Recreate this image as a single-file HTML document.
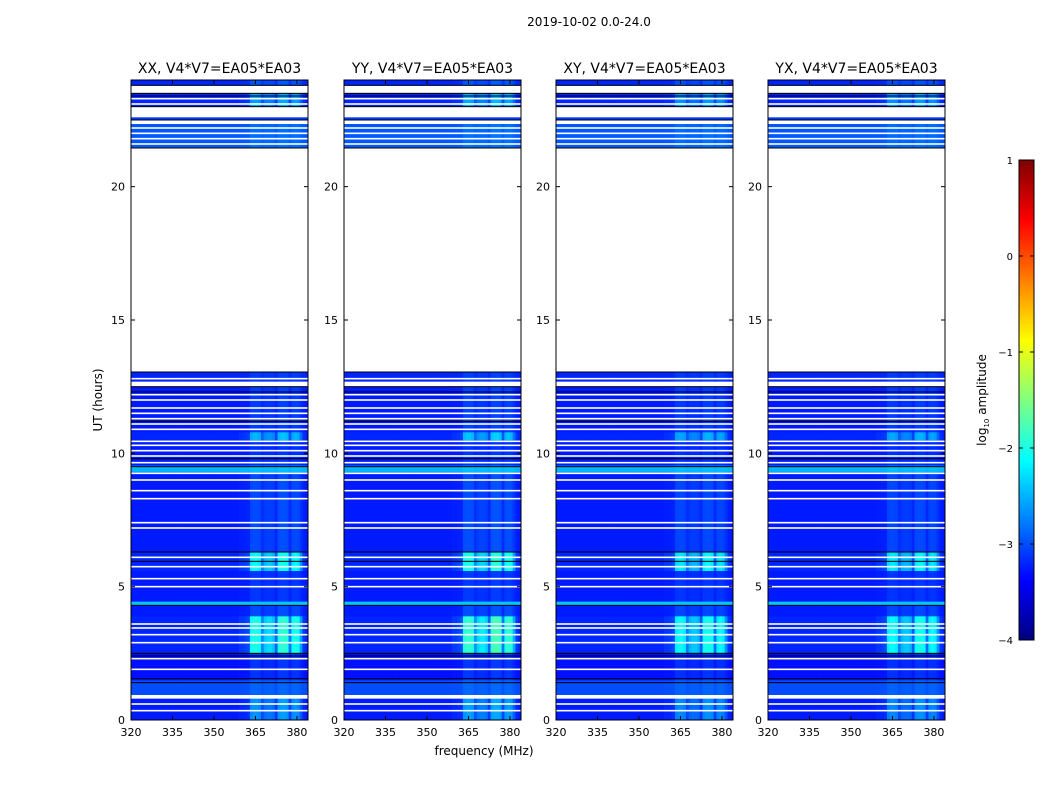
<!DOCTYPE html>
<html><head><meta charset="utf-8">
<style>
body{margin:0;background:#fff;width:1050px;height:800px;overflow:hidden;font-family:"DejaVu Sans","Liberation Sans",sans-serif;}
svg text{font-family:"DejaVu Sans","Liberation Sans",sans-serif;fill:#000;}
</style></head>
<body>
<svg id="fig" width="1050" height="800" xmlns="http://www.w3.org/2000/svg">
<text x="589" y="26" font-size="12" text-anchor="middle">2019-10-02 0.0-24.0</text>
<text x="0" y="0" font-size="12" text-anchor="middle" transform="translate(102,400) rotate(-90)">UT (hours)</text>
<text x="484" y="755" font-size="12" text-anchor="middle">frequency (MHz)</text>
<g id="panels"></g>
<g id="cbar"></g>
<text x="0" y="0" font-size="12" text-anchor="middle" transform="translate(986,400) rotate(-90)">log<tspan font-size="7" dy="3">10</tspan><tspan dy="-3"> amplitude</tspan></text>
</svg>
<script>
// ---- data ----
const panelTitles = ["XX, V4*V7=EA05*EA03","YY, V4*V7=EA05*EA03","XY, V4*V7=EA05*EA03","YX, V4*V7=EA05*EA03"];
const panelGain = [1.0, 1.1, 0.9, 0.9];
const segStart = [0,0.8,0.95,1.5,2.5,3.9,4.3,4.45,5.6,6.3,9.3,9.55,10.5,10.8,12.5,12.7,13.05,21.45,22.35,22.5,22.6,23.0,23.5,23.8];
const segEnd   = [0.8,0.95,1.5,2.5,3.9,4.3,4.45,5.6,6.3,9.3,9.55,10.5,10.8,12.5,12.7,13.05,21.45,22.35,22.5,22.6,23.0,23.5,23.8,24];
const segBase  = [-3.25,null,-3.0,-3.3,-3.2,-3.25,-2.4,-3.25,-3.2,-3.25,-2.5,-3.25,-3.2,-3.25,null,-3.2,null,-2.95,null,-3.1,null,-3.2,null,-3.2];
const segRfi   = [0.5,0,0.1,0.15,1.0,0.2,0,0.12,0.9,0.2,0.05,0.1,0.6,0.15,0,0.1,0,0.1,0,0,0,0.5,0,0.2];
const freqProfile = [0,0,0,0,0,0,0,0,0,0,0,0,0,0,0,0,0,0,0,0,0,0,0,0,0,0,0,0,0,0,0,0,0,0,0,0,0,0,0,0.1,0.1,0.15,0.2,1.1,1.2,1.2,1.1,0.5,0.8,0.9,0.9,0.8,0.3,1.2,1.3,1.3,1.2,0.4,1.1,1.2,1.1,0.6,0.1,0];
const whiteLines = [0.35,0.6,1.9,2.3,2.9,3.2,3.45,3.6,5.0,5.3,5.75,6.1,7.2,7.4,8.3,8.6,9.0,9.25,9.65,9.9,10.1,10.3,10.45,10.9,11.1,11.3,11.5,11.7,12.0,12.2,12.8,21.6,21.8,22.0,22.2,23.1,23.3];
const blackLines = [1.4,1.55,2.4,2.5,4.3,5.95,6.3,9.5,9.8,11.2,12.3,12.5,13.05,21.45,22.5,23.0,23.4,23.5,23.8];
const xTicks = [320,335,350,365,380];
const yTicks = [0,5,10,15,20];
const cTicks = [1,0,-1,-2,-3,-4];
const cTickLabels = ["1","0","\u22121","\u22122","\u22123","\u22124"];

// ---- scales ----
const NS="http://www.w3.org/2000/svg";
const panelX=[131,344,556,768], PW=177, PT=80, PB=720;
const fMin=320,fMax=384,tMin=0,tMax=24,vMin=-4,vMax=1;
function xs(px,f){return px+(f-fMin)/(fMax-fMin)*PW;}
function ys(t){return PB-(t-tMin)/(tMax-tMin)*(PB-PT);}
function jet(v){let x=Math.max(0,Math.min(1,(v-vMin)/(vMax-vMin)));
 const c=a=>Math.round(255*Math.max(0,Math.min(1,1.5-Math.abs(4*x-a))));
 return `rgb(${c(3)},${c(2)},${c(1)})`;}
function mk(tag,attrs,parent){const e=document.createElementNS(NS,tag);for(const k in attrs)e.setAttribute(k,attrs[k]);parent.appendChild(e);return e;}

const g=document.getElementById('panels');
panelX.forEach((px,pi)=>{
 const pg=mk('g',{},g);
 
 
 const hm=mk('g',{},pg);
 
 
 for(let s=0;s<segStart.length;s++){
  if(segBase[s]===null) continue;
  const y0=ys(segEnd[s]),y1=ys(segStart[s]);
  for(let c=0;c<freqProfile.length;c++){
   const v=segBase[s]+segRfi[s]*freqProfile[c]*panelGain[pi];
   const r=mk('rect',{x:xs(px,fMin+c).toFixed(2),y:y0.toFixed(2),width:(PW/64+0.4).toFixed(2),height:(y1-y0+0.3).toFixed(2),fill:jet(v)},hm);
   
   
  }
 }
 whiteLines.forEach(t=>{const l=mk('rect',{x:px,y:ys(t)-0.8,width:PW,height:1.6,fill:'#fff'},pg);
  
  });
 blackLines.forEach(t=>{const l=mk('rect',{x:px,y:ys(t)-0.5,width:PW,height:1,fill:'#000'},pg);
  
  });
 const fr=mk('rect',{x:px,y:PT,width:PW,height:PB-PT,fill:'none',stroke:'#000','stroke-width':1},pg);
 
 
 const tt=mk('text',{x:px+PW/2,y:73,'font-size':14,'text-anchor':'middle'},pg);tt.textContent=panelTitles[pi];
 
 
 xTicks.forEach(f=>{const x=xs(px,f);
  mk('line',{x1:x,x2:x,y1:PB,y2:PB-4,stroke:'#000'},pg);
  mk('line',{x1:x,x2:x,y1:PT,y2:PT+4,stroke:'#000'},pg);
  const t=mk('text',{x:x,y:PB+16,'font-size':11,'text-anchor':'middle'},pg);t.textContent=f;
  
  });
 yTicks.forEach(v=>{const y=ys(v);
  mk('line',{x1:px,x2:px+4,y1:y,y2:y,stroke:'#000'},pg);
  mk('line',{x1:px+PW,x2:px+PW-4,y1:y,y2:y,stroke:'#000'},pg);
  const t=mk('text',{x:px-6,y:y+4,'font-size':11,'text-anchor':'end'},pg);t.textContent=v;
  
  });
});

// colorbar
const cb=document.getElementById('cbar');
const CX=1019,CW=15,CT=160,CB=640;
function cy(v){return CB-(v-vMin)/(vMax-vMin)*(CB-CT);}
for(let i=0;i<200;i++){const v=vMin+(i+0.5)/200*(vMax-vMin);
 const y=cy(vMin+(i+1)/200*(vMax-vMin));
 const r=mk('rect',{x:CX,y:y.toFixed(2),width:CW,height:((CB-CT)/200+0.5).toFixed(2),fill:jet(v)},cb);
 
 }
mk('rect',{x:CX,y:CT,width:CW,height:CB-CT,fill:'none',stroke:'#000'},cb);
cTicks.forEach((v,i)=>{const y=cy(v);
 mk('line',{x1:CX,x2:CX+4,y1:y,y2:y,stroke:'#000'},cb);
 mk('line',{x1:CX+CW,x2:CX+CW-4,y1:y,y2:y,stroke:'#000'},cb);
 const t=mk('text',{x:CX-6,y:y+4,'font-size':10,'text-anchor':'end'},cb);t.textContent=cTickLabels[i];
 
 });
</script>
</body></html>
